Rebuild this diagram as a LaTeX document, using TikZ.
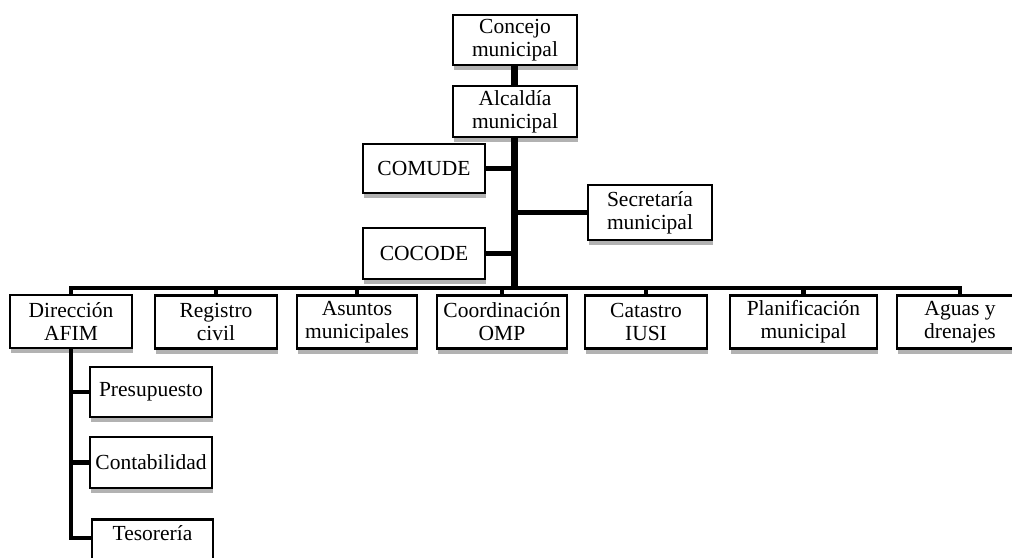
\documentclass[tikz,border=0pt]{standalone}
\usepackage{fontspec}
\setmainfont{Liberation Serif}
\usetikzlibrary{shadows}
\begin{document}
\begin{tikzpicture}[x=1pt,y=-1pt,
  box/.style={draw, line width=2.8pt, fill=white, align=center, inner sep=0pt,
    font=\fontsize{21.5}{23}\selectfont,
    drop shadow={shadow xshift=1pt, shadow yshift=-5pt, fill=black!30, opacity=1}},
  trunk/.style={line width=7pt},
  link/.style={line width=4.5pt, line join=miter}]
\useasboundingbox (0,0) rectangle (1012,557);
\clip (0,0) rectangle (1012,557);
% top boxes
\node[box, minimum width=124pt, minimum height=50pt] (concejo) at (515,40) {Concejo\\municipal};
\node[box, minimum width=124pt, minimum height=51pt] (alcaldia) at (515,111.5) {Alcaldía\\municipal};
\node[box, minimum width=122pt, minimum height=49pt] (comude) at (424,168.5) {COMUDE};
\node[box, minimum width=124pt, minimum height=55pt] (secretaria) at (650,212.5) {Secretaría\\municipal};
\node[box, minimum width=122pt, minimum height=51pt] (cocode) at (424,253.5) {COCODE};
% second row
\node[box, minimum width=122pt, minimum height=53pt] (direccion) at (71,321.5) {Dirección\\AFIM};
\node[box, minimum width=122pt, minimum height=53pt] (registro) at (216,322) {Registro\\civil};
\node[box, minimum width=120pt, minimum height=53pt] (asuntos) at (357,322) {Asuntos\\municipales};
\node[box, minimum width=130pt, minimum height=53pt] (coordinacion) at (502,322) {Coordinación\\OMP};
\node[box, minimum width=122pt, minimum height=53pt] (catastro) at (646,322) {Catastro\\IUSI};
\node[box, minimum width=147pt, minimum height=53pt] (planificacion) at (803.5,322) {Planificación\\municipal};
\node[box, minimum width=126pt, minimum height=53pt] (aguas) at (960,322) {Aguas y\\drenajes};
% AFIM sub-units
\node[box, minimum width=122pt, minimum height=50pt] (presupuesto) at (151,392) {Presupuesto};
\node[box, minimum width=122pt, minimum height=51pt] (contabilidad) at (151,462.5) {Contabilidad};
\node[box, minimum width=121pt, anchor=north, inner ysep=6pt, text depth=30pt] (tesoreria) at (152.5,518) {Tesorería};
% connectors
\coordinate (bar) at (514,288);
\draw[trunk] (concejo.south -| bar) -- (alcaldia.north -| bar);
\draw[trunk] (alcaldia.south -| bar) -- (bar);
\draw[link] (comude.east) -- (comude.east -| bar);
\draw[link] (cocode.east) -- (cocode.east -| bar);
\draw[link] (secretaria.west) -- (secretaria.west -| bar);
\draw[link] (direccion.north) -- (direccion.north |- bar) -- (aguas.north |- bar) -- (aguas.north);
\foreach \n in {registro,asuntos,coordinacion,catastro,planificacion}
  \draw[link] (\n.north) -- (\n.north |- bar);
\coordinate (tesin) at ([yshift=10pt]tesoreria.west);
\draw[link] (direccion.south) -- (direccion.south |- tesin) -- (tesin);
\draw[link] (presupuesto.west) -- (presupuesto.west -| direccion.south);
\draw[link] (contabilidad.west) -- (contabilidad.west -| direccion.south);
\end{tikzpicture}
\end{document}
